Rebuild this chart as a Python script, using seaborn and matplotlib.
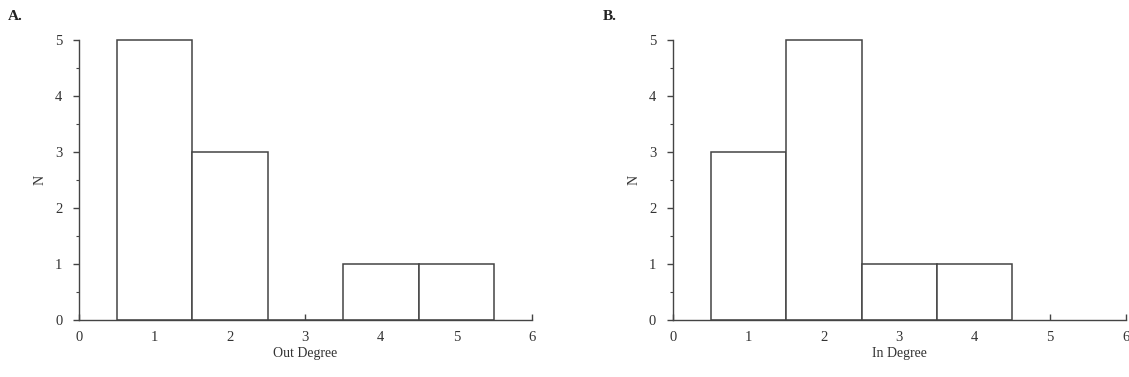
import matplotlib
matplotlib.use("Agg")
import matplotlib.pyplot as plt
import seaborn as sns
import pandas as pd
from matplotlib.ticker import MultipleLocator

# Degree values (one entry per node)
out_degree = [1, 1, 1, 1, 1, 2, 2, 2, 4, 5]
in_degree = [1, 1, 1, 2, 2, 2, 2, 2, 3, 4]
x_ticks = [0, 1, 2, 3, 4, 5, 6]
y_ticks = [0, 1, 2, 3, 4, 5]
panels = ["A.", "B."]
xlabels = ["Out Degree", "In Degree"]

sns.set_theme(style="white")
plt.rcParams["font.family"] = ["Liberation Serif", "DejaVu Serif"]

fig = plt.figure(figsize=(11.29, 3.77), dpi=100)
axA = fig.add_axes([0.070, 0.151, 0.401, 0.743])
axB = fig.add_axes([0.596, 0.151, 0.401, 0.743])

ink = "#444444"
for ax, data, xl, lab, lx in [(axA, out_degree, xlabels[0], panels[0], 0.007),
                              (axB, in_degree, xlabels[1], panels[1], 0.534)]:
    df = pd.DataFrame({"deg": data})
    sns.histplot(data=df, x="deg", discrete=True, ax=ax, color="white",
                 edgecolor=ink, linewidth=1.1, alpha=1)
    for p in ax.patches:
        p.set_clip_on(False)
    ax.set_xlim(0, 6)
    ax.set_ylim(0, 5)
    ax.set_xticks(x_ticks)
    ax.set_yticks(y_ticks)
    ax.yaxis.set_minor_locator(MultipleLocator(0.5))
    for s in ["top", "right"]:
        ax.spines[s].set_visible(False)
    for s in ["left", "bottom"]:
        ax.spines[s].set_color(ink)
        ax.spines[s].set_linewidth(1.0)
    ax.tick_params(axis="x", direction="in", length=4, width=1, color=ink,
                   labelsize=10.5, labelcolor="#333333", pad=8, bottom=True)
    ax.tick_params(axis="y", which="major", direction="out", length=4, width=1,
                   color=ink, labelsize=10.5, labelcolor="#333333", pad=8, left=True)
    ax.tick_params(axis="y", which="minor", direction="out", length=2.5, width=0.8,
                   color=ink, left=True)
    ax.set_xlabel(xl, fontsize=10, color="#333333", labelpad=2)
    ax.set_ylabel("N", fontsize=10, color="#333333", labelpad=6)
    ax.set_facecolor("white")
    fig.text(lx, 0.955, lab, fontsize=11, fontweight="bold", color="#222222",
             va="center", ha="left")

fig.savefig("out.png", dpi=100, facecolor="white")
